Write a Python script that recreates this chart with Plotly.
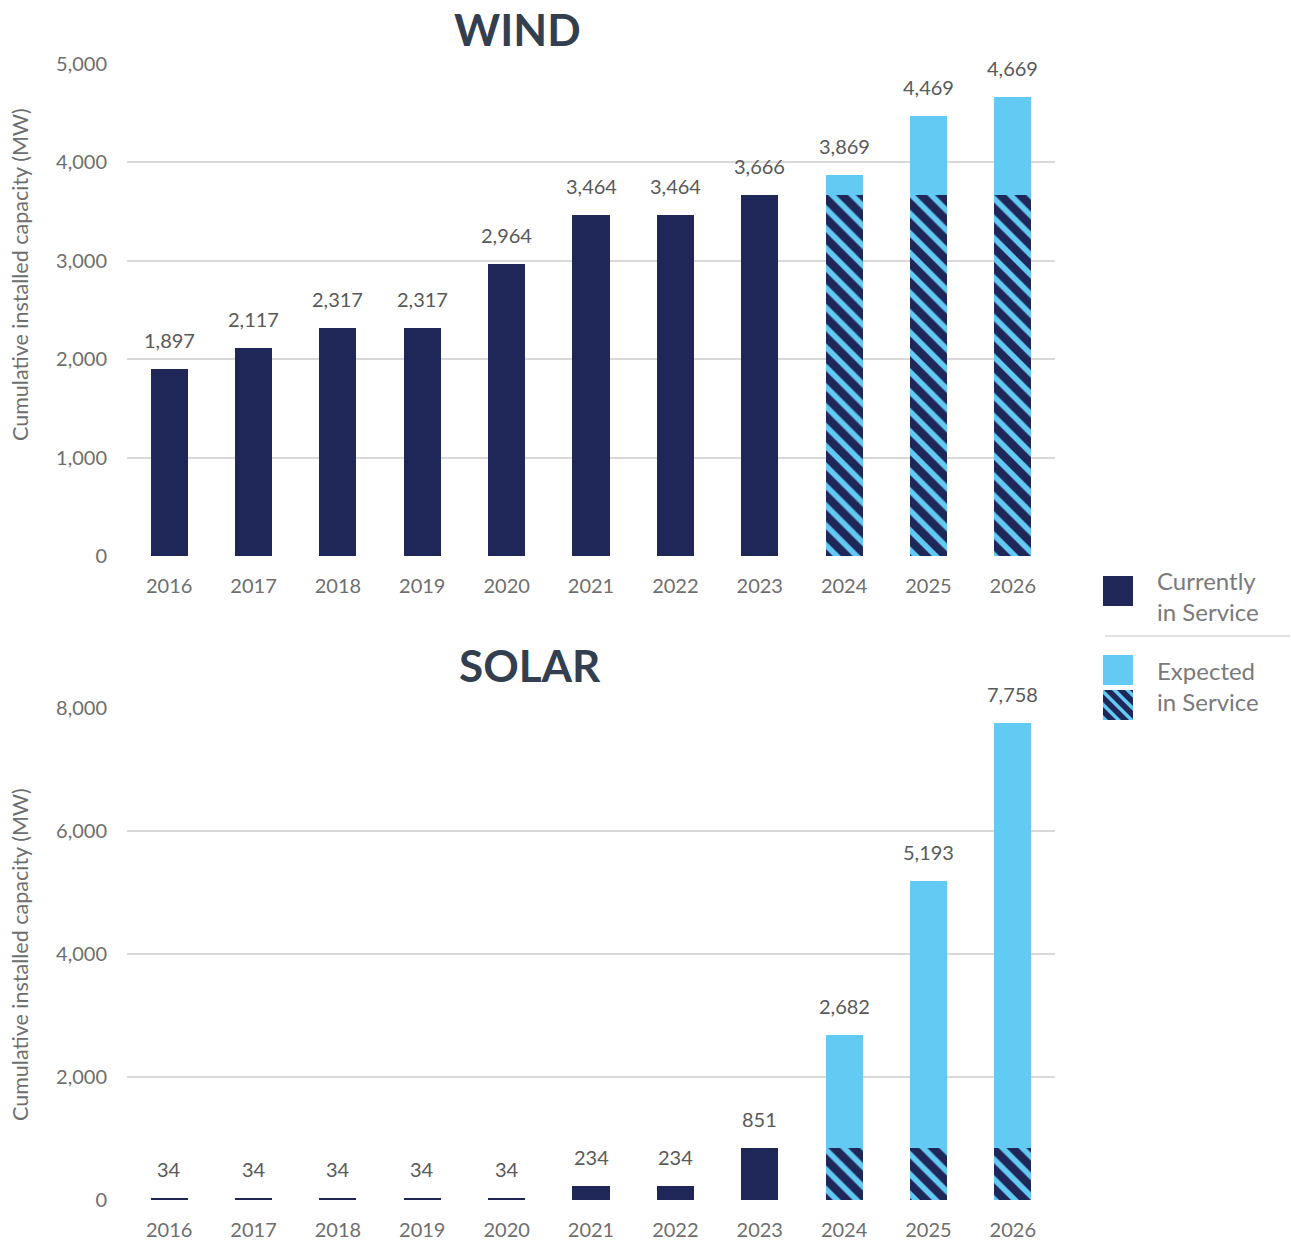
import plotly.graph_objects as go

# ---- data -------------------------------------------------------------
years = ["2016", "2017", "2018", "2019", "2020", "2021", "2022", "2023", "2024", "2025", "2026"]
hist_years = years[:8]
future_years = years[8:]

wind_in_service = [1897, 2117, 2317, 2317, 2964, 3464, 3464, 3666]
wind_in_service_carried = [3666, 3666, 3666]
wind_expected_total = [3869, 4469, 4669]

solar_in_service = [34, 34, 34, 34, 34, 234, 234, 851]
solar_in_service_carried = [851, 851, 851]
solar_expected_total = [2682, 5193, 7758]

wind_ticks = [0, 1000, 2000, 3000, 4000, 5000]
solar_ticks = [0, 2000, 4000, 6000, 8000]

# ---- style ------------------------------------------------------------
W, H = 1291, 1242
NAVY = "#1F2759"
LIGHT = "#63CAF3"
GRID = "#D9D9D9"
TICK = "#6E6E6E"
LABEL = "#595959"
TITLE = "#333F4F"
FONT = "Lato"


def px(x):
    return x / W


def py(y):
    return 1 - y / H


hatch = dict(shape="\\", fgcolor=LIGHT, fgopacity=1, bgcolor=NAVY, size=14, solidity=0.4,
             fillmode="overlay")

fig = go.Figure()


def add_panel(xa, ya, in_service, carried, expected_total):
    expected_add = [t - c for t, c in zip(expected_total, carried)]
    fig.add_bar(x=hist_years, y=in_service, marker=dict(color=NAVY, line_width=0),
                xaxis=xa, yaxis=ya, showlegend=False, hoverinfo="skip")
    fig.add_bar(x=future_years, y=carried, marker=dict(color=NAVY, pattern=hatch, line_width=0),
                xaxis=xa, yaxis=ya, showlegend=False, hoverinfo="skip")
    fig.add_bar(x=future_years, y=expected_add, marker=dict(color=LIGHT, line_width=0),
                xaxis=xa, yaxis=ya, showlegend=False, hoverinfo="skip")
    totals = in_service + expected_total
    # value labels above each column (x given as category index)
    for i, v in enumerate(totals):
        fig.add_annotation(x=i, y=v, xref=xa, yref=ya, text=f"{v:,}", showarrow=False,
                           yanchor="bottom", yshift=15,
                           font=dict(family=FONT, size=20, color=LABEL))


add_panel("x", "y", wind_in_service, wind_in_service_carried, wind_expected_total)
add_panel("x2", "y2", solar_in_service, solar_in_service_carried, solar_expected_total)

x_dom = [px(127), px(1055)]
xcommon = dict(type="category", categoryorder="array", categoryarray=years,
               range=[-0.5, len(years) - 0.5], automargin=False,
               showgrid=False, zeroline=False, showline=False, ticks="",
               tickfont=dict(family=FONT, size=20, color=TICK), ticklabelstandoff=16,
               fixedrange=True)
ycommon = dict(showgrid=True, gridcolor=GRID, gridwidth=1.5, zeroline=False, showline=False,
               ticks="", tickformat=",d", tickfont=dict(family=FONT, size=20, color=TICK),
               ticklabelstandoff=19, automargin=False, fixedrange=True)

fig.update_layout(
    width=W, height=H,
    margin=dict(l=0, r=0, t=0, b=0),
    paper_bgcolor="white", plot_bgcolor="white",
    barmode="stack", bargap=0.56,
    xaxis=dict(domain=x_dom, anchor="y", **xcommon),
    yaxis=dict(domain=[py(556), py(64)], range=[0, 5000], tickvals=wind_ticks, anchor="x", **ycommon),
    xaxis2=dict(domain=x_dom, anchor="y2", **xcommon),
    yaxis2=dict(domain=[py(1200), py(708)], range=[0, 8000], tickvals=solar_ticks, anchor="x2", **ycommon),
    showlegend=False,
)

# panel titles
for text, cx, cy in [("WIND", 517, 29), ("SOLAR", 530, 665)]:
    fig.add_annotation(x=px(cx), y=py(cy), xref="paper", yref="paper", text=f"<b>{text}</b>",
                       showarrow=False, xanchor="center", yanchor="middle",
                       font=dict(family=FONT, size=44, color=TITLE))

# rotated axis titles
for cy in [275, 955]:
    fig.add_annotation(x=px(20), y=py(cy), xref="paper", yref="paper",
                       text="Cumulative installed capacity (MW)", textangle=-90, showarrow=False,
                       xanchor="center", yanchor="middle",
                       font=dict(family=FONT, size=21.5, color=TICK))


# ---- legend -------------------------------------------------------------
def rect(x0, y0, x1, y1, color):
    fig.add_shape(type="rect", xref="paper", yref="paper", x0=px(x0), x1=px(x1),
                  y0=py(y1), y1=py(y0), fillcolor=color, line_width=0, layer="above")


def clip(poly, f):
    """Keep the part of a polygon where f(x, y) >= 0 (linear f)."""
    out = []
    n = len(poly)
    for i in range(n):
        a, b = poly[i], poly[(i + 1) % n]
        fa, fb = f(*a), f(*b)
        if fa >= 0:
            out.append(a)
        if (fa >= 0) != (fb >= 0):
            t = fa / (fa - fb)
            out.append((a[0] + t * (b[0] - a[0]), a[1] + t * (b[1] - a[1])))
    return out


def hatched_swatch(x0, y0, size, period=13, stripe=5):
    rect(x0, y0, x0 + size, y0 + size, NAVY)
    square = [(0, 0), (size, 0), (size, size), (0, size)]
    c = -size
    while c < size:
        lo, hi = c, c + stripe
        poly = clip(square, lambda x, y, lo=lo: (x - y) - lo)
        poly = clip(poly, lambda x, y, hi=hi: hi - (x - y))
        if len(poly) >= 3:
            path = "M " + " L ".join(f"{px(x0 + x):.5f},{py(y0 + y):.5f}" for x, y in poly) + " Z"
            fig.add_shape(type="path", xref="paper", yref="paper", path=path,
                          fillcolor=LIGHT, line_width=0, layer="above")
        c += period


rect(1103, 576, 1133, 606, NAVY)
rect(1103, 655, 1133, 685, LIGHT)
hatched_swatch(1103, 690, 30)
fig.add_shape(type="line", xref="paper", yref="paper", x0=px(1105), x1=px(1290), y0=py(636), y1=py(636),
              line=dict(color=GRID, width=1.5))
for text, cy in [("Currently<br>in Service", 596), ("Expected<br>in Service", 686)]:
    fig.add_annotation(x=px(1155), y=py(cy), xref="paper", yref="paper", text=text, showarrow=False,
                       xanchor="left", yanchor="middle", align="left",
                       font=dict(family=FONT, size=24, color="#7A7A7A"))

fig.write_html("out.html")
